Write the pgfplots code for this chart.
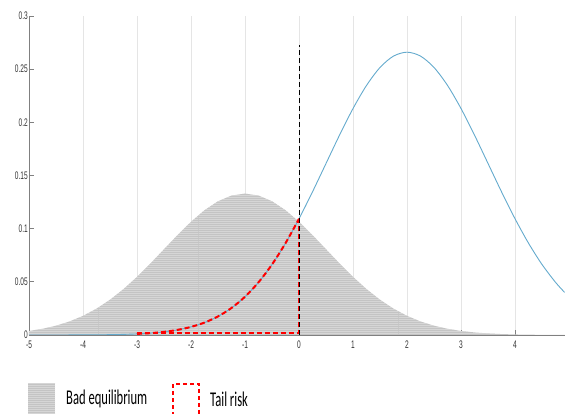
\documentclass[border=0pt]{standalone}
\usepackage{pgfplots}
\pgfplotsset{compat=1.18}
\usepackage{fontspec}
\setmainfont{Liberation Sans}
\newfontfamily\legfont{Carlito}
\usetikzlibrary{patterns}
\pgfdeclarepatternformonly{finehlines}{\pgfpointorigin}{\pgfqpoint{100pt}{2pt}}{\pgfqpoint{100pt}{2pt}}{%
  \pgfsetlinewidth{0.7pt}%
  \pgfpathmoveto{\pgfqpoint{0pt}{0.5pt}}%
  \pgfpathlineto{\pgfqpoint{100.1pt}{0.5pt}}%
  \pgfusepath{stroke}}
\newcommand\sq[1]{\scalebox{0.6}[1]{#1}}
\definecolor{bluecurve}{RGB}{100,170,205}
\definecolor{ticktext}{RGB}{50,50,50}
\begin{document}
\begin{tikzpicture}[x=1pt,y=1pt]
\useasboundingbox (0,0) rectangle (565,414);
\begin{axis}[
  at={(29pt,79pt)}, anchor=south west,
  scale only axis, width=535.7pt, height=319pt,
  xmin=-5, xmax=4.92, ymin=0, ymax=0.3,
  axis x line*=bottom, axis y line*=left,
  axis line style={draw=black!50, line width=0.8pt, -},
  xtick={-5,-4,-3,-2,-1,0,1,2,3,4},
  xticklabels={\sq{-5},\sq{-4},\sq{-3},\sq{-2},\sq{-1},\sq{0},\sq{1},\sq{2},\sq{3},\sq{4}},
  ytick={0,0.05,0.1,0.15,0.2,0.25,0.3},
  yticklabels={\sq{0},\sq{0.05},\sq{0.1},\sq{0.15},\sq{0.2},\sq{0.25},\sq{0.3}},
  scaled y ticks=false,
  tick align=inside, major tick length=5pt,
  tick style={draw=black!50, line width=0.8pt},
  ticklabel style={font=\fontsize{11}{11}\selectfont, text=ticktext},
  yticklabel style={inner sep=1pt},
  xticklabel style={inner sep=0pt, yshift=-6pt},
  xmajorgrids, ymajorgrids=false,
  grid style={draw=black!10, line width=0.6pt},
  clip=true,
]
% Bad equilibrium (grey area)
\addplot[draw=none, fill=black!23,
  postaction={pattern=finehlines, pattern color=black!12}] coordinates {
(-5,0.0038) (-4.75,0.00584) (-4.5,0.00874) (-4.25,0.01272) (-4,0.0180)
(-3.75,0.02477) (-3.5,0.03316) (-3.25,0.04317) (-3,0.05467) (-2.75,0.06733)
(-2.5,0.08066) (-2.25,0.09397) (-2,0.10648) (-1.75,0.11736) (-1.5,0.12579)
(-1.25,0.13115) (-1,0.13298) (-0.75,0.13115) (-0.5,0.12579) (-0.25,0.11736)
(0,0.10648) (0.25,0.09397) (0.5,0.08066) (0.75,0.06733) (1,0.05467)
(1.25,0.04317) (1.5,0.03316) (1.75,0.02477) (2,0.0180) (2.25,0.01272)
(2.5,0.00874) (2.75,0.00584) (3,0.0038) (3.25,0.0024) (3.5,0.00148)
(3.75,0.00088) (4,0.00051) (4.25,0.00029) (4.5,0.00016) (4.75,0.00009) (4.92,0.00006)
} \closedcycle;
% Blue density
\addplot[smooth, bluecurve, line width=0.9pt] coordinates {
(-5,0.000005) (-4.75,0.000011) (-4.5,0.000022) (-4.25,0.000045) (-4,0.000089)
(-3.75,0.000172) (-3.5,0.000320) (-3.25,0.000582) (-3,0.001028) (-2.75,0.001767)
(-2.5,0.002954) (-2.25,0.004804) (-2,0.007598) (-1.75,0.011686) (-1.5,0.017482)
(-1.25,0.025438) (-1,0.035995) (-0.75,0.049540) (-0.5,0.066316) (-0.25,0.086343)
(0,0.109338) (0.25,0.134668) (0.5,0.161314) (0.75,0.187936) (1,0.212966)
(1.25,0.234710) (1.5,0.251588) (1.75,0.262292) (2,0.265962) (2.25,0.262292)
(2.5,0.251588) (2.75,0.234710) (3,0.212966) (3.25,0.187936) (3.5,0.161314)
(3.75,0.134668) (4,0.109338) (4.25,0.086343) (4.5,0.066316) (4.75,0.049540) (4.92,0.039990)
};
% Tail risk (red dashed)
\addplot[red, line width=2pt, dash pattern=on 5pt off 3pt] coordinates {
(-3,0.0015) (0,0.0015) (0,0.109338)
};
\addplot[smooth, red, line width=2pt, dash pattern=on 5pt off 3pt] coordinates {
(-3,0.001028) (-2.75,0.001767) (-2.5,0.002954) (-2.25,0.004804) (-2,0.007598)
(-1.75,0.011686) (-1.5,0.017482) (-1.25,0.025438) (-1,0.035995) (-0.75,0.049540)
(-0.5,0.066316) (-0.25,0.086343) (0,0.109338)
};
% black dashed threshold
\addplot[black, line width=0.9pt, dash pattern=on 5pt off 3pt] coordinates {(0,0) (0,0.273)};
\end{axis}
% legend
\fill[black!23, postaction={pattern=finehlines, pattern color=black!12}] (28,0) rectangle (55,31);
\node[anchor=west, inner sep=0pt] at (66,15) {\legfont\fontsize{21}{21}\selectfont\scalebox{0.6}[1]{Bad equilibrium}};
\draw[red, line width=1.5pt, dash pattern=on 4pt off 3pt] (173,-2) rectangle (199,30);
\node[anchor=west, inner sep=0pt] at (210,15) {\legfont\fontsize{21}{21}\selectfont\scalebox{0.6}[1]{Tail risk}};
\end{tikzpicture}
\end{document}
